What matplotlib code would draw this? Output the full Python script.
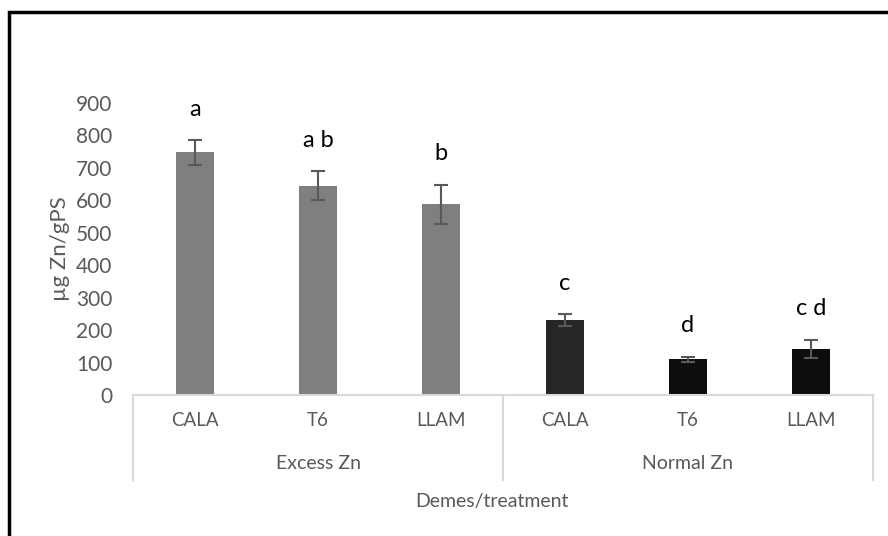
import matplotlib
matplotlib.use('Agg')
import matplotlib.pyplot as plt
from matplotlib.patches import Rectangle
import matplotlib.transforms as mtransforms

# Datos
demes = ["CALA", "T6", "LLAM", "CALA", "T6", "LLAM"]
grupos = ["Excess Zn", "Normal Zn"]
zn = [748, 645, 588, 232, 110, 143]
err = [38, 45, 60, 18, 8, 28]
letras = ["a", "a b", "b", "c", "d", "c d"]
colores = ["#7f7f7f", "#7f7f7f", "#7f7f7f", "#262626", "#0d0d0d", "#0d0d0d"]
gris = "#595959"

plt.rcParams['font.family'] = ['Lato', 'DejaVu Sans']

fig = plt.figure(figsize=(8.88, 5.36), dpi=100)
ax = fig.add_axes([133 / 888, 1 - 395 / 536, 740 / 888, 292 / 536])

x = list(range(len(zn)))
ax.bar(x, zn, width=0.31, color=colores, zorder=2)
ax.errorbar(x, zn, yerr=err, fmt='none', ecolor=gris, elinewidth=1.5,
            capsize=5, capthick=1.5, zorder=3)

# letras de significancia
for xi, v, e, t in zip(x, zn, err, letras):
    ax.text(xi, v + e + 95, t, ha='center', va='center', fontsize=17,
            color='black', clip_on=False)

ax.set_xlim(-0.5, 5.5)
ax.set_ylim(0, 900)
ax.set_yticks(range(0, 901, 100))
ax.tick_params(axis='y', length=0, labelsize=15, labelcolor=gris, pad=15)
ax.set_xticks(x)
ax.set_xticklabels(demes)
ax.tick_params(axis='x', length=0, labelsize=13.5, labelcolor=gris, pad=12)

for s in ['top', 'right', 'left']:
    ax.spines[s].set_visible(False)
ax.spines['bottom'].set_color('#d9d9d9')
ax.spines['bottom'].set_linewidth(1.5)

# separadores de grupos debajo del eje
trans = mtransforms.blended_transform_factory(ax.transData, ax.transAxes)
for xs in [-0.5, 2.5, 5.5]:
    ax.plot([xs, xs], [0, -0.29], transform=trans, color='#d9d9d9',
            lw=1.5, clip_on=False)
for i, g in enumerate(grupos):
    ax.text(1 + 3 * i, -0.233, g, transform=trans, ha='center', va='center',
            fontsize=14, color=gris)

ax.set_ylabel("µg Zn/gPS", fontsize=16, color=gris, labelpad=4)
fig.text(492 / 888, 1 - 502 / 536, "Demes/treatment", ha='center',
         va='center', fontsize=14, color=gris)

# marco exterior
fig.patches.append(Rectangle((9 / 888, -0.05), 1.1, 1 - 12 / 536 + 0.05,
                             transform=fig.transFigure, fill=False,
                             edgecolor='black', lw=2.5))

fig.savefig("out.png", dpi=100)
